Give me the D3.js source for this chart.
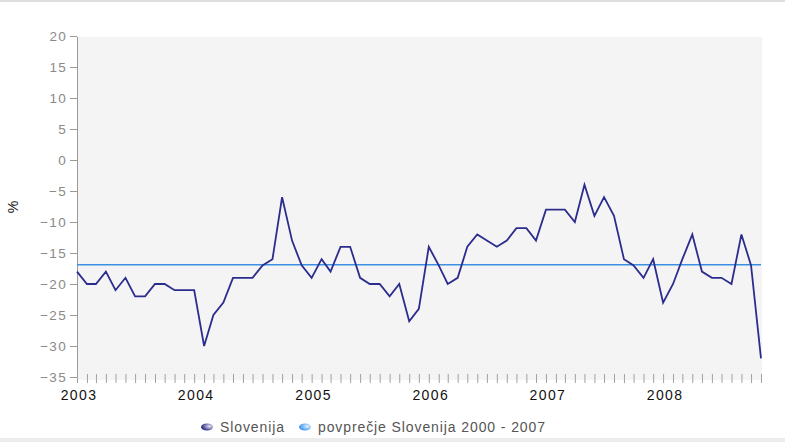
<!DOCTYPE html>
<html lang="sl">
<head>
<meta charset="UTF-8">
<title>Slovenija</title>
<script src="https://d3js.org/d3.v7.min.js"></script>
<style>
  body { margin: 0; background: #fff; }
  text { font-family: "Liberation Sans", Arial, sans-serif; }
</style>
</head>
<body>
<script>
// mesečne vrednosti, jan 2003 - nov 2008
const years = [2003, 2004, 2005, 2006, 2007, 2008];
const slovenija = [
  -18, -20, -20, -18, -21, -19, -22, -22, -20, -20, -21, -21,
  -21, -30, -25, -23, -19, -19, -19, -17, -16, -6, -13, -17,
  -19, -16, -18, -14, -14, -19, -20, -20, -22, -20, -26, -24,
  -14, -17, -20, -19, -14, -12, -13, -14, -13, -11, -11, -13,
  -8, -8, -8, -10, -4, -9, -6, -9, -16, -17, -19, -16,
  -23, -20, -16, -12, -18, -19, -19, -20, -12, -17, -32
];
const povprecje = -16.9;
const yTicks = [20, 15, 10, 5, 0, -5, -10, -15, -20, -25, -30, -35];
const legendLabels = ["Slovenija", "povprečje Slovenija 2000 - 2007"];

const width = 785, height = 442;
const margin = {top: 36, right: 24, bottom: 65, left: 77};

const svg = d3.select("body").append("svg")
  .attr("width", width)
  .attr("height", height);

const dates = slovenija.map((v, i) => new Date(2003, i, 1));
const data = slovenija.map((v, i) => ({date: dates[i], value: v}));

const x = d3.scaleTime()
  .domain([dates[0], dates[dates.length - 1]])
  .range([margin.left, width - margin.right]);

const y = d3.scaleLinear()
  .domain([-35, 20])
  .range([height - margin.bottom, margin.top]);

// okvir
svg.append("rect").attr("x", 0).attr("y", 0).attr("width", width).attr("height", 2).attr("fill", "#dedede");
svg.append("rect").attr("x", 0).attr("y", 438).attr("width", width).attr("height", 4).attr("fill", "#ececec");

// ozadje grafa
svg.append("rect")
  .attr("x", margin.left)
  .attr("y", y(20) + 1)
  .attr("width", x.range()[1] - margin.left + 1)
  .attr("height", y(-35) - y(20) + 2)
  .attr("fill", "#f4f4f4");

// y os
const yAxis = svg.append("g")
  .attr("transform", "translate(" + margin.left + ",0)")
  .call(d3.axisLeft(y).tickValues(yTicks).tickSize(7).tickPadding(3).tickFormat(d3.format("d")));
yAxis.select(".domain").attr("stroke", "#999").attr("d", "M0.5," + (y(20) + 1) + "V" + (y(-35) + 2));
yAxis.selectAll(".tick line").attr("stroke", "#999");
yAxis.selectAll(".tick text")
  .attr("fill", "#8a8a8a")
  .style("font-size", "13.5px")
  .style("letter-spacing", "1.3px");

// x os - mesečne oznake
const xAxis = svg.append("g")
  .attr("transform", "translate(0," + (y(-35) - 3) + ")")
  .call(d3.axisBottom(x).ticks(d3.timeMonth.every(1)).tickSize(9).tickFormat(""));
xAxis.select(".domain").remove();
xAxis.selectAll(".tick line").attr("stroke", "#a0a0a0");

svg.append("g")
  .selectAll("text")
  .data(years)
  .enter().append("text")
  .attr("x", d => x(new Date(d, 0, 1)) + 2)
  .attr("y", 400)
  .attr("text-anchor", "middle")
  .attr("fill", "#111")
  .style("font-size", "14px")
  .style("letter-spacing", "1.4px")
  .text(d => d);

// naslov y osi
svg.append("text")
  .attr("transform", "translate(18,207) rotate(-90)")
  .attr("text-anchor", "middle")
  .attr("fill", "#111")
  .style("font-size", "14px")
  .text("%");

// povprečje
svg.append("line")
  .attr("x1", margin.left)
  .attr("x2", x.range()[1])
  .attr("y1", y(povprecje))
  .attr("y2", y(povprecje))
  .attr("stroke", "#3a8fe2")
  .attr("stroke-width", 1.5);

// Slovenija
svg.append("path")
  .datum(data)
  .attr("fill", "none")
  .attr("stroke", "#2c2c8e")
  .attr("stroke-width", 1.8)
  .attr("d", d3.line().x(d => x(d.date)).y(d => y(d.value)));

// legenda
const defs = svg.append("defs");
const grad = [["g1", "#1c1c7a", "#e8e8f4"], ["g2", "#2f8ff0", "#e6f2fd"]];
grad.forEach(g => {
  const rg = defs.append("radialGradient").attr("id", g[0]).attr("cx", "70%").attr("cy", "40%").attr("r", "70%");
  rg.append("stop").attr("offset", "0%").attr("stop-color", g[2]);
  rg.append("stop").attr("offset", "100%").attr("stop-color", g[1]);
});

const legendX = [207, 305];
const legend = svg.append("g").selectAll("g")
  .data(legendLabels)
  .enter().append("g")
  .attr("transform", (d, i) => "translate(" + legendX[i] + ",427)");
legend.append("ellipse")
  .attr("rx", 6).attr("ry", 3.5)
  .attr("fill", (d, i) => "url(#" + grad[i][0] + ")");
legend.append("text")
  .attr("x", 13)
  .attr("y", 5)
  .attr("fill", "#555")
  .style("font-size", "14px")
  .style("letter-spacing", "0.9px")
  .text(d => d);
</script>
</body>
</html>
